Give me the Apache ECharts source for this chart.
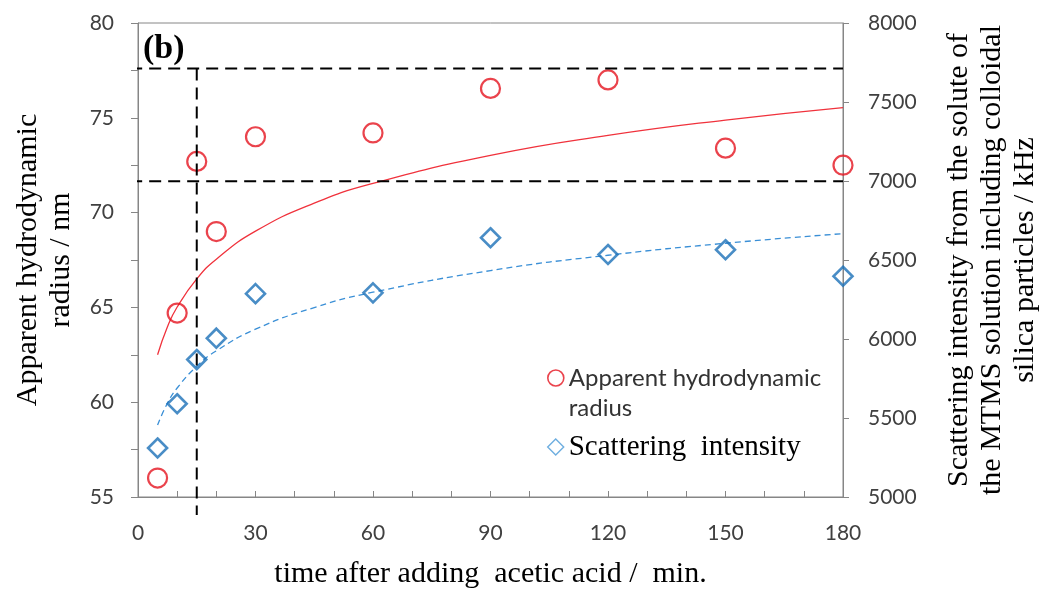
<!DOCTYPE html>
<html>
<head>
<meta charset="utf-8">
<script src="https://cdn.jsdelivr.net/npm/echarts@6/dist/echarts.min.js"></script>
<style>
  html, body { margin: 0; padding: 0; background: #fff; }
  #chart { width: 1043px; height: 589px; }
</style>
</head>
<body>
<div id="chart"></div>
<script>
// Measured points: time after acid addition (min)
const timeMin = [5, 10, 15, 20, 30, 60, 90, 120, 150, 180];
// Apparent hydrodynamic radius (nm), left axis
const radiusNm = [56.0, 64.7, 72.7, 69.0, 74.0, 74.2, 76.55, 77.0, 73.4, 72.5];
// Scattering intensity (kHz), right axis
const intensityKHz = [5310, 5590, 5870, 6005, 6287, 6292, 6641, 6535, 6565, 6397];

// Logarithmic trend curves, sampled along the time axis
const trendTime = [5, 7.5, 10, 15, 20, 30, 45, 60, 90, 120, 150, 180];
const radiusTrend = [62.5, 63.97, 65.02, 66.5, 67.54, 69.02, 70.5, 71.54, 73.02, 74.07, 74.88, 75.54];
const intensityTrend = [5456, 5593, 5690, 5827, 5925, 6062, 6199, 6296, 6433, 6530, 6606, 6667];

// Dashed guide lines (left-axis values and time)
const guideTime = 15;
const guideRadiusHigh = 77.6;
const guideRadiusLow = 71.65;

// Axis tick labels
const xTicks = [0, 30, 60, 90, 120, 150, 180];
const leftTicks = [55, 60, 65, 70, 75, 80];
const rightTicks = [5000, 5500, 6000, 6500, 7000, 7500, 8000];

const SERIF = '"Liberation Serif", "Times New Roman", serif';
const SANS = 'Lato, "Open Sans", sans-serif';
const AXIS_GRAY = '#868686';
const LABEL_COLOR = '#404040';
const RED = '#e5141f';
const BLUE = '#1c70b8';

const pair = (xs, ys) => xs.map((x, i) => [x, ys[i]]);

const chart = echarts.init(document.getElementById('chart'), null, { renderer: 'canvas' });

chart.setOption({
  backgroundColor: '#fff',
  animation: false,
  grid: {
    left: 138, right: 200, top: 23, bottom: 92,
    outerBoundsMode: 'none', containLabel: false,
    show: true, borderColor: AXIS_GRAY, borderWidth: 1, backgroundColor: 'transparent'
  },
  graphic: [{
    type: 'text', left: 143, top: 32,
    style: { text: '(b)', font: 'bold 34px ' + SERIF, fill: '#000' }
  }],
  legend: [{
    left: 547, top: 333, padding: 0, orient: 'vertical',
    itemWidth: 16, itemHeight: 16,
    data: [{
      name: 'Apparent hydrodynamic radius', icon: 'circle',
      itemStyle: { color: 'transparent', borderColor: RED, borderWidth: 1.6 }
    }],
    // blank first line keeps the icon level with the first text line
    formatter: () => '\nApparent hydrodynamic\nradius',
    textStyle: { fontFamily: SANS, fontSize: 24, color: '#333', lineHeight: 30 }
  }, {
    left: 547, top: 432, padding: 0, orient: 'vertical',
    itemWidth: 16, itemHeight: 16,
    data: [{
      name: 'Scattering  intensity', icon: 'diamond',
      itemStyle: { color: 'transparent', borderColor: '#4a9ad8', borderWidth: 1.4 }
    }],
    textStyle: { fontFamily: SERIF, fontSize: 29, color: '#000', lineHeight: 30 }
  }],
  xAxis: {
    type: 'value', min: xTicks[0], max: xTicks[xTicks.length - 1], interval: 30,
    name: 'time after adding  acetic acid /  min.',
    nameLocation: 'middle', nameGap: 62,
    nameTextStyle: { fontFamily: SERIF, fontSize: 30, color: '#000' },
    axisLine: { show: true, lineStyle: { color: AXIS_GRAY, width: 1 } },
    axisTick: { show: true, inside: true, length: 6, lineStyle: { color: AXIS_GRAY } },
    minorTick: { show: true, splitNumber: 3, length: 6, lineStyle: { color: AXIS_GRAY } },
    axisLabel: { fontFamily: SANS, fontSize: 21, color: LABEL_COLOR, margin: 26 },
    splitLine: { show: false }
  },
  yAxis: [{
    type: 'value', position: 'left',
    min: leftTicks[0], max: leftTicks[leftTicks.length - 1], interval: 5,
    name: 'Apparent hydrodynamic\nradius / nm',
    nameLocation: 'middle', nameGap: 60, nameRotate: 90,
    nameTextStyle: { fontFamily: SERIF, fontSize: 30, color: '#000', lineHeight: 33 },
    axisLine: { show: true, lineStyle: { color: AXIS_GRAY, width: 1 } },
    axisTick: { show: true, inside: false, length: 7, lineStyle: { color: AXIS_GRAY } },
    minorTick: { show: true, splitNumber: 2, length: 7, lineStyle: { color: AXIS_GRAY } },
    axisLabel: { fontFamily: SANS, fontSize: 21, color: LABEL_COLOR, margin: 24 },
    splitLine: { show: false }
  }, {
    type: 'value', position: 'right',
    min: rightTicks[0], max: rightTicks[rightTicks.length - 1], interval: 500,
    name: 'Scattering intensity from the solute of\nthe MTMS solution including colloidal\nsilica particles / kHz',
    nameLocation: 'middle', nameGap: 100, nameRotate: 90,
    nameTextStyle: { fontFamily: SERIF, fontSize: 30, color: '#000', lineHeight: 33 },
    axisLine: { show: true, lineStyle: { color: AXIS_GRAY, width: 1 } },
    axisTick: { show: true, inside: false, length: 6, lineStyle: { color: AXIS_GRAY } },
    axisLabel: { fontFamily: SANS, fontSize: 21, color: LABEL_COLOR, margin: 25, formatter: v => String(v) },
    splitLine: { show: false }
  }],
  series: [{
    name: 'radius trend', type: 'line', yAxisIndex: 0,
    data: pair(trendTime, radiusTrend),
    smooth: true, symbol: 'none', silent: true, z: 2,
    lineStyle: { color: '#f0323c', width: 1.3 }
  }, {
    name: 'intensity trend', type: 'line', yAxisIndex: 1,
    data: pair(trendTime, intensityTrend),
    smooth: true, symbol: 'none', silent: true, z: 2,
    lineStyle: { color: '#3a8fd6', width: 1.3, type: [6, 4] }
  }, {
    name: 'Apparent hydrodynamic radius', type: 'scatter', yAxisIndex: 0,
    data: pair(timeMin, radiusNm),
    symbol: 'circle', symbolSize: 19, z: 3,
    itemStyle: { color: 'transparent', borderColor: RED, borderWidth: 2.2 }
  }, {
    name: 'Scattering  intensity', type: 'scatter', yAxisIndex: 1,
    data: pair(timeMin, intensityKHz),
    symbol: 'diamond', symbolSize: [19, 19], z: 3,
    itemStyle: { color: 'transparent', borderColor: BLUE, borderWidth: 2.6 }
  }, {
    name: 'guide high', type: 'line', yAxisIndex: 0,
    data: [[-2, guideRadiusHigh], [180, guideRadiusHigh]],
    symbol: 'none', silent: true, clip: false, z: 5,
    lineStyle: { color: '#000', width: 2, type: [12, 7] }
  }, {
    name: 'guide low', type: 'line', yAxisIndex: 0,
    data: [[-2, guideRadiusLow], [180, guideRadiusLow]],
    symbol: 'none', silent: true, clip: false, z: 5,
    lineStyle: { color: '#000', width: 2, type: [12, 7] }
  }, {
    name: 'guide time', type: 'line', yAxisIndex: 0,
    data: [[guideTime, guideRadiusHigh], [guideTime, 54.05]],
    symbol: 'none', silent: true, clip: false, z: 5,
    lineStyle: { color: '#000', width: 2, type: [12, 7] }
  }]
});
</script>
</body>
</html>
